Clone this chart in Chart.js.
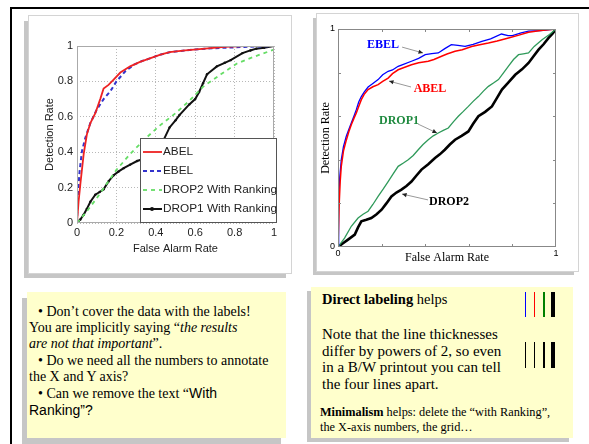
<!DOCTYPE html>
<html>
<head>
<meta charset="utf-8">
<script src="https://cdn.jsdelivr.net/npm/chart.js@4.4.0/dist/chart.umd.min.js"></script>
<style>
  body { margin: 0; width: 589px; height: 444px; overflow: hidden; background: #fff; position: relative; font-family: "Liberation Serif", "Times New Roman", serif; color: #000; }
  .frame { position: absolute; left: 10px; top: 7px; width: 600px; height: 460px; border-top: 2px solid #000; border-left: 2px solid #000; }
  .panel { position: absolute; background: #fff; outline: 1px solid #d4d4d4; }
  .panel canvas { position: absolute; left: 0; top: 0; }
  .note { position: absolute; background: #ffffcc; }
  .txt { position: absolute; white-space: nowrap; }
  .sans { font-family: "Liberation Sans", Arial, sans-serif; }
  .bar { position: absolute; }
</style>
</head>
<body>
<div class="frame"></div>

<div class="panel" style="left:29px;top:16px;width:262px;height:257px;box-shadow:-5px 5px 0 #c6c6c6;">
  <canvas id="left" width="262" height="257"></canvas>
</div>
<div class="panel" style="left:317px;top:14px;width:261px;height:257px;box-shadow:-4px 4px 0 #c6c6c6;">
  <canvas id="right" width="261" height="257"></canvas>
</div>

<div class="note" style="left:27px;top:292px;width:259px;height:146px;box-shadow:-5px 6px 0 #c6c6c6;">
  <div class="txt" style="left:0;top:12px;font-size:14px;line-height:16.2px;">
    <div style="padding-left:11px">• Don’t cover the data with the labels!</div>
    <div style="padding-left:2px">You are implicitly saying “<i>the results</i></div>
    <div style="padding-left:2px"><i>are not that important</i>”.</div>
    <div style="padding-left:11px">• Do we need all the numbers to annotate</div>
    <div style="padding-left:2px">the X and Y axis?</div>
    <div style="padding-left:11px">• Can we remove the text “<span class="sans">With</span></div>
    <div style="padding-left:2px" class="sans">Ranking”?</div>
  </div>
</div>

<div class="note" style="left:311px;top:287px;width:262px;height:151px;box-shadow:-4px 4px 0 #c6c6c6;">
  <div class="txt" style="left:11px;top:3px;font-size:14.5px;line-height:18px;"><b>Direct labeling</b> helps</div>
  <div class="txt" style="left:11px;top:39px;font-size:15px;line-height:16.7px;">
    Note that the line thicknesses<br>differ by powers of 2, so even<br>in a B/W printout you can tell<br>the four lines apart.
  </div>
  <div class="txt" style="left:9px;top:118px;font-size:12.3px;line-height:15px;">
    <b>Minimalism</b> helps: delete the “with Ranking”,<br>the X-axis numbers, the grid…
  </div>
  <div class="bar" style="left:214px;top:5px;width:1px;height:25px;background:#0000ff"></div>
  <div class="bar" style="left:223px;top:5px;width:1px;height:25px;background:#ff0000"></div>
  <div class="bar" style="left:232px;top:5px;width:2px;height:25px;background:#008000"></div>
  <div class="bar" style="left:240px;top:5px;width:4px;height:25px;background:#000"></div>
  <div class="bar" style="left:214px;top:55px;width:1px;height:26px;background:#000"></div>
  <div class="bar" style="left:223px;top:55px;width:1px;height:26px;background:#000"></div>
  <div class="bar" style="left:232px;top:55px;width:2px;height:26px;background:#000"></div>
  <div class="bar" style="left:240px;top:55px;width:4px;height:26px;background:#000"></div>
</div>

<script>
// ---- left chart (cluttered version) ----
const leftLabels = ["ABEL", "EBEL", "DROP2 With Ranking", "DROP1 With Ranking"];
const leftAbel = [[0,0],[0.008,0.12],[0.017,0.22],[0.034,0.39],[0.05,0.5],[0.068,0.565],[0.093,0.62],[0.118,0.7],[0.135,0.76],[0.16,0.78],[0.186,0.81],[0.22,0.85],[0.27,0.885],[0.32,0.91],[0.37,0.93],[0.42,0.95],[0.47,0.965],[0.55,0.975],[0.65,0.985],[0.75,0.995],[0.85,1],[1,1]];
const leftEbel = [[0,0],[0.003,0.14],[0.013,0.29],[0.025,0.405],[0.042,0.48],[0.068,0.565],[0.1,0.64],[0.135,0.7],[0.17,0.745],[0.2,0.8],[0.245,0.857],[0.29,0.895],[0.33,0.915],[0.37,0.93],[0.42,0.95],[0.47,0.965],[0.55,0.975],[0.65,0.985],[0.75,0.99],[0.85,0.995],[1,1]];
const leftDrop2 = [[0,0],[0.05,0.066],[0.1,0.14],[0.15,0.22],[0.2,0.3],[0.27,0.39],[0.35,0.48],[0.42,0.55],[0.5,0.62],[0.57,0.69],[0.64,0.77],[0.73,0.84],[0.81,0.9],[0.9,0.94],[1,0.98]];
const leftDrop1 = [[0,0],[0.017,0.02],[0.034,0.047],[0.05,0.08],[0.068,0.12],[0.093,0.16],[0.115,0.175],[0.135,0.19],[0.16,0.235],[0.186,0.27],[0.21,0.29],[0.237,0.31],[0.27,0.33],[0.305,0.35],[0.36,0.37],[0.4,0.4],[0.44,0.47],[0.47,0.54],[0.5,0.58],[0.52,0.61],[0.57,0.67],[0.6,0.7],[0.62,0.74],[0.64,0.79],[0.66,0.84],[0.71,0.885],[0.75,0.905],[0.78,0.92],[0.84,0.96],[0.88,0.975],[0.91,0.985],[0.95,0.99],[1,1]];

// ---- right chart (direct labels) ----
const rightLabels = ["ABEL", "EBEL", "DROP1", "DROP2"];
const rightAbel = [[0,0],[0.005,0.187],[0.01,0.3],[0.015,0.37],[0.025,0.44],[0.038,0.49],[0.05,0.53],[0.061,0.561],[0.073,0.59],[0.084,0.615],[0.095,0.645],[0.107,0.676],[0.12,0.7],[0.138,0.722],[0.16,0.735],[0.184,0.745],[0.205,0.76],[0.23,0.775],[0.25,0.795],[0.276,0.813],[0.3,0.822],[0.337,0.836],[0.37,0.845],[0.414,0.852],[0.44,0.86],[0.475,0.875],[0.5,0.885],[0.537,0.898],[0.57,0.905],[0.613,0.92],[0.65,0.928],[0.69,0.936],[0.73,0.945],[0.782,0.959],[0.83,0.972],[0.874,0.985],[0.93,0.993],[1,1]];
const rightEbel = [[0,0],[0.003,0.217],[0.008,0.32],[0.015,0.4],[0.025,0.46],[0.038,0.508],[0.05,0.54],[0.061,0.569],[0.073,0.6],[0.084,0.63],[0.095,0.665],[0.107,0.69],[0.12,0.71],[0.138,0.734],[0.16,0.75],[0.184,0.768],[0.205,0.79],[0.23,0.806],[0.25,0.812],[0.276,0.829],[0.3,0.838],[0.337,0.852],[0.37,0.865],[0.4,0.882],[0.43,0.887],[0.46,0.89],[0.49,0.91],[0.52,0.928],[0.55,0.925],[0.583,0.92],[0.62,0.93],[0.66,0.943],[0.7,0.955],[0.75,0.977],[0.78,0.97],[0.8,0.97],[0.84,0.982],[0.874,0.99],[0.93,0.993],[0.97,0.997],[1,1]];
const rightDrop1 = [[0,0],[0.03,0.041],[0.061,0.095],[0.092,0.133],[0.115,0.15],[0.138,0.164],[0.16,0.195],[0.184,0.232],[0.207,0.265],[0.23,0.3],[0.253,0.335],[0.276,0.37],[0.3,0.385],[0.322,0.4],[0.345,0.42],[0.368,0.446],[0.39,0.47],[0.414,0.492],[0.437,0.51],[0.46,0.523],[0.483,0.535],[0.506,0.546],[0.53,0.575],[0.552,0.6],[0.575,0.622],[0.598,0.645],[0.62,0.668],[0.644,0.69],[0.667,0.715],[0.69,0.737],[0.713,0.752],[0.736,0.768],[0.76,0.8],[0.782,0.83],[0.805,0.86],[0.828,0.882],[0.85,0.886],[0.874,0.89],[0.9,0.92],[0.936,0.951],[0.97,0.975],[1,1]];
const rightDrop2 = [[0,0],[0.023,0.017],[0.046,0.034],[0.077,0.057],[0.092,0.09],[0.107,0.118],[0.13,0.125],[0.153,0.133],[0.177,0.15],[0.2,0.171],[0.222,0.2],[0.245,0.232],[0.268,0.25],[0.291,0.263],[0.314,0.28],[0.337,0.3],[0.36,0.328],[0.383,0.355],[0.414,0.38],[0.445,0.408],[0.467,0.425],[0.49,0.446],[0.513,0.47],[0.537,0.492],[0.567,0.51],[0.598,0.53],[0.62,0.565],[0.644,0.6],[0.675,0.62],[0.706,0.645],[0.73,0.685],[0.752,0.722],[0.782,0.755],[0.813,0.79],[0.844,0.815],[0.874,0.844],[0.897,0.875],[0.92,0.905],[0.943,0.93],[0.966,0.959],[0.985,0.98],[1,1]];

const pts = arr => arr.map(([x, y]) => ({ x, y }));
const SANS = "'Liberation Sans', Arial, sans-serif";
const SERIF = "'Liberation Serif', 'Times New Roman', serif";

// box around the plot area
const frameBox = {
  id: "frameBox",
  afterDatasetsDraw(chart, args, opts) {
    const { ctx, chartArea: a } = chart;
    ctx.save();
    ctx.strokeStyle = opts.color;
    ctx.lineWidth = 1;
    ctx.strokeRect(a.left + 0.5, a.top + 0.5, a.width - 1, a.height - 1);
    ctx.restore();
  }
};

// matlab style legend sitting on top of the data
const boxLegend = {
  id: "boxLegend",
  afterDatasetsDraw(chart) {
    const { ctx, chartArea: a } = chart;
    const l = a.left + 63, r = a.right + 3, t = a.bottom - 85, b = a.bottom;
    ctx.save();
    ctx.fillStyle = "#fff";
    ctx.fillRect(l, t, r - l, b - t);
    ctx.strokeStyle = "#555";
    ctx.lineWidth = 1;
    ctx.strokeRect(l + 0.5, t + 0.5, r - l - 1, b - t - 1);
    const rows = [14, 33, 52, 71];
    chart.data.datasets.forEach((ds, i) => {
      const y = t + rows[i];
      ctx.strokeStyle = ds.borderColor;
      ctx.lineWidth = ds.borderWidth;
      ctx.setLineDash(ds.borderDash || []);
      ctx.beginPath();
      ctx.moveTo(l + 3, y);
      ctx.lineTo(l + 22, y);
      ctx.stroke();
      ctx.setLineDash([]);
      if (ds.pointRadius) {
        ctx.fillStyle = ds.borderColor;
        ctx.beginPath();
        ctx.arc(l + 12, y, 2, 0, Math.PI * 2);
        ctx.fill();
      }
      ctx.fillStyle = "#222";
      ctx.font = "11.8px " + SANS;
      ctx.textBaseline = "middle";
      ctx.fillText(ds.label, l + 23, y);
    });
    ctx.restore();
  }
};

new Chart(document.getElementById("left"), {
  type: "line",
  data: {
    datasets: [
      { label: leftLabels[0], data: pts(leftAbel), borderColor: "#ee2222", borderWidth: 1.8, pointRadius: 0 },
      { label: leftLabels[1], data: pts(leftEbel), borderColor: "#3333cc", borderWidth: 2, borderDash: [4, 3], pointRadius: 0 },
      { label: leftLabels[2], data: pts(leftDrop2), borderColor: "#66dd66", borderWidth: 1.8, borderDash: [4, 4], pointRadius: 0 },
      { label: leftLabels[3], data: pts(leftDrop1), borderColor: "#111", backgroundColor: "#111", borderWidth: 2, pointRadius: 1.2, pointBorderWidth: 0 }
    ]
  },
  options: {
    responsive: false,
    animation: false,
    layout: { padding: { left: 0, top: 30, right: 17, bottom: 0 } },
    plugins: { legend: { display: false }, tooltip: { enabled: false }, frameBox: { color: "#aaa" } },
    scales: {
      x: {
        type: "linear", min: 0, max: 1,
        afterFit(s) { s.height = 50; },
        ticks: { stepSize: 0.2, padding: 3, color: "#222", font: { family: SANS, size: 11 }, callback: v => String(+v.toFixed(1)) },
        grid: { color: "#b8b8b8", drawTicks: false },
        border: { display: false, dash: [1, 2] },
        title: { display: true, text: "False Alarm Rate", color: "#222", font: { family: SANS, size: 11 }, padding: { top: 0, bottom: 17 } }
      },
      y: {
        type: "linear", min: 0, max: 1,
        afterFit(s) { s.width = 48; },
        ticks: { stepSize: 0.2, padding: 4, color: "#222", font: { family: SANS, size: 11 }, callback: v => String(+v.toFixed(1)) },
        grid: { color: "#b8b8b8", drawTicks: false },
        border: { display: false, dash: [1, 2] },
        title: { display: true, text: "Detection Rate", color: "#222", font: { family: SANS, size: 11 }, padding: { top: 14, bottom: 0 } }
      }
    }
  },
  plugins: [frameBox, boxLegend]
});

// inward tick marks on all four sides
const innerTicks = {
  id: "innerTicks",
  afterDatasetsDraw(chart) {
    const { ctx, chartArea: a, scales } = chart;
    ctx.save();
    ctx.strokeStyle = "#888";
    ctx.lineWidth = 1;
    ctx.beginPath();
    scales.x.ticks.forEach(t => {
      if (t.value <= 0 || t.value >= 1) return;
      const px = Math.round(scales.x.getPixelForValue(t.value)) + 0.5;
      ctx.moveTo(px, a.bottom); ctx.lineTo(px, a.bottom - 3);
      ctx.moveTo(px, a.top); ctx.lineTo(px, a.top + 3);
    });
    scales.y.ticks.forEach(t => {
      if (t.value <= 0 || t.value >= 1) return;
      const py = Math.round(scales.y.getPixelForValue(t.value)) + 0.5;
      ctx.moveTo(a.left, py); ctx.lineTo(a.left + 3, py);
      ctx.moveTo(a.right, py); ctx.lineTo(a.right - 3, py);
    });
    ctx.stroke();
    ctx.restore();
  }
};

// text labels with a small arrow pointing to each line
const directLabels = {
  id: "directLabels",
  afterDatasetsDraw(chart, args, opts) {
    const { ctx, scales: { x, y } } = chart;
    ctx.save();
    opts.items.forEach(it => {
      const ds = chart.data.datasets[it.ds];
      const x1 = x.getPixelForValue(it.from[0]), y1 = y.getPixelForValue(it.from[1]);
      const x2 = x.getPixelForValue(it.to[0]), y2 = y.getPixelForValue(it.to[1]);
      ctx.strokeStyle = "#999";
      ctx.lineWidth = 1;
      ctx.beginPath();
      ctx.moveTo(x1, y1);
      ctx.lineTo(x2, y2);
      ctx.stroke();
      const ang = Math.atan2(y2 - y1, x2 - x1);
      ctx.fillStyle = "#222";
      ctx.beginPath();
      ctx.moveTo(x2, y2);
      ctx.lineTo(x2 - 5 * Math.cos(ang - 0.45), y2 - 5 * Math.sin(ang - 0.45));
      ctx.lineTo(x2 - 5 * Math.cos(ang + 0.45), y2 - 5 * Math.sin(ang + 0.45));
      ctx.closePath();
      ctx.fill();
      ctx.fillStyle = it.color;
      ctx.font = "bold 12px " + SERIF;
      ctx.textAlign = "center";
      ctx.textBaseline = "middle";
      ctx.fillText(ds.label, x.getPixelForValue(it.at[0]), y.getPixelForValue(it.at[1]));
    });
    ctx.restore();
  }
};

new Chart(document.getElementById("right"), {
  type: "line",
  data: {
    datasets: [
      { label: rightLabels[0], data: pts(rightAbel), borderColor: "#ff0000", borderWidth: 1.5, pointRadius: 0 },
      { label: rightLabels[1], data: pts(rightEbel), borderColor: "#0000ff", borderWidth: 1.3, pointRadius: 0 },
      { label: rightLabels[2], data: pts(rightDrop1), borderColor: "#2f9a5a", borderWidth: 1.3, pointRadius: 0 },
      { label: rightLabels[3], data: pts(rightDrop2), borderColor: "#000", borderWidth: 2.6, pointRadius: 0 }
    ]
  },
  options: {
    responsive: false,
    animation: false,
    layout: { padding: { left: 0, top: 15, right: 22, bottom: 0 } },
    plugins: {
      legend: { display: false }, tooltip: { enabled: false },
      frameBox: { color: "#888" },
      directLabels: {
        items: [
          { ds: 1, color: "#0000ff", at: [0.206, 0.927], from: [0.294, 0.917], to: [0.39, 0.89] },
          { ds: 0, color: "#ff0000", at: [0.422, 0.725], from: [0.335, 0.734], to: [0.234, 0.761] },
          { ds: 2, color: "#1f8a3f", at: [0.28, 0.578], from: [0.367, 0.564], to: [0.454, 0.523] },
          { ds: 3, color: "#000", at: [0.509, 0.206], from: [0.413, 0.216], to: [0.294, 0.243] }
        ]
      }
    },
    scales: {
      x: {
        type: "linear", min: 0, max: 1,
        afterFit(s) { s.height = 24; },
        ticks: { stepSize: 0.2, padding: 1, color: "#000", font: { family: SANS, size: 9 }, autoSkip: false,
                 callback: v => (Math.abs(v) < 1e-9 || Math.abs(v - 1) < 1e-9) ? String(Math.round(v)) : "" },
        grid: { display: false, drawTicks: false },
        border: { display: false },
        title: { display: true, text: "False Alarm Rate", color: "#000", font: { family: SERIF, size: 12 }, padding: { top: 0, bottom: 6 } }
      },
      y: {
        type: "linear", min: 0, max: 1,
        afterFit(s) { s.width = 21; },
        ticks: { stepSize: 0.2, padding: 3, color: "#000", font: { family: SANS, size: 9 }, autoSkip: false,
                 callback: v => (Math.abs(v) < 1e-9 || Math.abs(v - 1) < 1e-9) ? String(Math.round(v)) : "" },
        grid: { display: false, drawTicks: false },
        border: { display: false },
        title: { display: true, text: "Detection Rate", color: "#000", font: { family: SERIF, size: 12 }, padding: { top: 2, bottom: 0 } }
      }
    }
  },
  plugins: [frameBox, innerTicks, directLabels]
});
</script>
</body>
</html>
